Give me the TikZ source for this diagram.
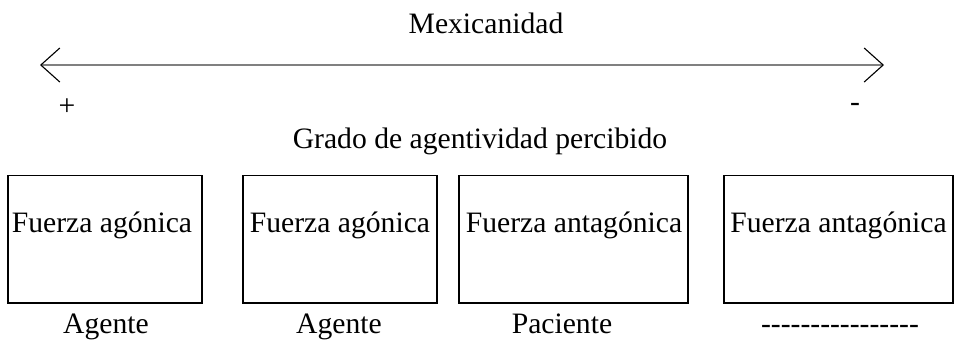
\documentclass[tikz,border=0pt,12pt]{standalone}
\usepackage{fontspec}
\setmainfont{Liberation Serif}[Ligatures=TeXOff]
\usetikzlibrary{arrows.meta}

\tikzset{
    caja/.style={draw, line width=0.45pt, minimum height=127.5*0.405pt, inner sep=0pt},
    texto/.style={anchor=base, inner sep=0pt},
    signo/.style={inner sep=0pt},
    punta/.style={Straight Barb[black, length=7.7pt, width=13.8pt, line width=0.45pt]},
    flecha/.style={draw=gray, line width=0.6pt, {Straight Barb[black, length=7.7pt, width=13.8pt, line width=0.45pt]}-{Straight Barb[black, length=7.7pt, width=13.8pt, line width=0.45pt]}}
}

\begin{document}
\begin{tikzpicture}[x=0.405pt, y=-0.405pt]
        \useasboundingbox (0,0) rectangle (954,340);

        % Scale on top
        \node[texto] (mex) at (486,33) {Mexicanidad};
        \coordinate (izq) at (40,65);
        \coordinate (der) at (884,65);
        \draw[flecha] (izq) -- (der);
        \node[signo] (mas) at (67,107) {+};
        \node[signo] (menos) at (855,107) {-};

        \node[texto] (grado) at (480,148) {Grado de agentividad percibido};

        % Boxes
        \node[caja, minimum width=194*0.405pt] (c1) at (105,239.25) {};
        \node[caja, minimum width=194*0.405pt] (c2) at (340,239.25) {};
        \node[caja, minimum width=229*0.405pt] (c3) at (573.5,239.25) {};
        \node[caja, minimum width=229*0.405pt] (c4) at (838.5,239.25) {};

        % Texts in the boxes
        \node[texto] (t1) at (102,232) {Fuerza agónica};
        \node[texto] (t2) at (340,232) {Fuerza agónica};
        \node[texto] (t3) at (574,232) {Fuerza antagónica};
        \node[texto] (t4) at (838.5,232) {Fuerza antagónica};

        % Labels below
        \node[texto] (e1) at (106,333) {Agente};
        \node[texto] (e2) at (339,333) {Agente};
        \node[texto] (e3) at (562,333) {Paciente};
        \node[texto] (e4) at (840,333) {----------------};
    \end{tikzpicture}
\end{document}
